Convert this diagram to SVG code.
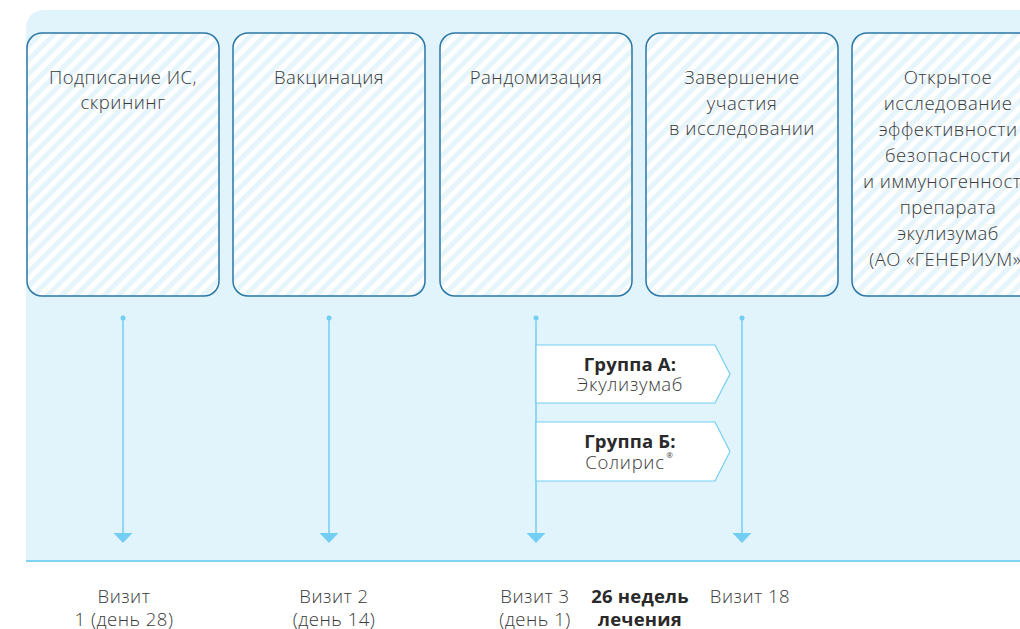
<svg xmlns="http://www.w3.org/2000/svg" width="1020" height="629" viewBox="0 0 1020 629">
<defs>
<pattern id="stripes" patternUnits="userSpaceOnUse" width="10" height="10" patternTransform="rotate(45)">
<rect width="10" height="10" fill="#ffffff"/>
<rect width="5" height="10" fill="#e6f4fb"/>
</pattern>
</defs>
<style>
.box{fill:url(#stripes);stroke:#2b77a6;stroke-width:1.5}
.t{font-family:"Open Sans","Liberation Sans",sans-serif;font-size:18.5px;letter-spacing:0.5px;fill:#3a3a3a;text-anchor:middle;font-weight:300}
.g{font-size:18.5px;letter-spacing:0.7px}
.b{font-weight:700;fill:#2a2a2a;letter-spacing:0.2px}
.ln{stroke:#72cff3;stroke-width:1.5;fill:none}
.dot{fill:#72cff3}
.head{fill:#72cff3}
.grp{fill:#ffffff;stroke:#72cff3;stroke-width:1.2}
</style>
<rect width="1020" height="629" fill="#ffffff"/>
<path d="M26 561 V30 Q26 10 46 10 H1020 V561 Z" fill="#e1f3fb"/>
<line x1="26" y1="561" x2="1020" y2="561" stroke="#7fd4f5" stroke-width="2"/>

<g id="node-signing">
<rect class="box" x="27" y="33" width="192" height="263" rx="15"/>
<text class="t" x="123" y="84">Подписание ИС,</text>
<text class="t" x="123" y="109">скрининг</text>
</g>
<g id="node-vaccination">
<rect class="box" x="233" y="33" width="192" height="263" rx="15"/>
<text class="t" x="329" y="84">Вакцинация</text>
</g>
<g id="node-randomization">
<rect class="box" x="440" y="33" width="192" height="263" rx="15"/>
<text class="t" x="536" y="84">Рандомизация</text>
</g>
<g id="node-completion">
<rect class="box" x="646" y="33" width="192" height="263" rx="15"/>
<text class="t" x="742" y="84">Завершение</text>
<text class="t" x="742" y="109.5">участия</text>
<text class="t" x="742" y="135">в исследовании</text>
</g>
<g id="node-open-study">
<rect class="box" x="852" y="33" width="192" height="263" rx="15"/>
<text class="t" x="948" y="84">Открытое</text>
<text class="t" x="948" y="110">исследование</text>
<text class="t" x="948" y="136">эффективности</text>
<text class="t" x="948" y="162">безопасности</text>
<text class="t" x="948" y="188">и иммуногенности</text>
<text class="t" x="948" y="214">препарата</text>
<text class="t" x="948" y="240">экулизумаб</text>
<text class="t" x="948" y="266">(АО «ГЕНЕРИУМ»)</text>
</g>

<g id="connectors">
<circle class="dot" cx="123" cy="318" r="2.5"/>
<line class="ln" x1="123" y1="318" x2="123" y2="534"/>
<path class="head" d="M113.5 533 H132.5 L123 543 Z"/>
<circle class="dot" cx="329" cy="318" r="2.5"/>
<line class="ln" x1="329" y1="318" x2="329" y2="534"/>
<path class="head" d="M319.5 533 H338.5 L329 543 Z"/>
<circle class="dot" cx="536" cy="318" r="2.5"/>
<line class="ln" x1="536" y1="318" x2="536" y2="534"/>
<path class="head" d="M526.5 533 H545.5 L536 543 Z"/>
<circle class="dot" cx="742" cy="318" r="2.5"/>
<line class="ln" x1="742" y1="318" x2="742" y2="534"/>
<path class="head" d="M732.5 533 H751.5 L742 543 Z"/>
</g>

<g id="node-group-a">
<path class="grp" d="M536 345 H715 L730 374 L715 403 H536 Z"/>
<text class="t b" x="630" y="371">Группа А:</text>
<text class="t g" x="630" y="391">Экулизумаб</text>
</g>
<g id="node-group-b">
<path class="grp" d="M536 422 H715 L730 451.5 L715 481 H536 Z"/>
<text class="t b" x="630" y="448">Группа Б:</text>
<text class="t g" x="625" y="469">Солирис</text>
<text x="669.5" y="458" font-family="Open Sans, sans-serif" font-size="8" fill="#3a3a3a" text-anchor="middle">®</text>
</g>

<g id="labels">
<text class="t" x="124" y="603">Визит</text>
<text class="t" x="124" y="626">1 (день 28)</text>
<text class="t" x="334" y="603">Визит 2</text>
<text class="t" x="334" y="626">(день 14)</text>
<text class="t" x="535" y="603">Визит 3</text>
<text class="t" x="535" y="626">(день 1)</text>
<text class="t b" x="640" y="603">26 недель</text>
<text class="t b" x="640" y="626">лечения</text>
<text class="t" x="750" y="603">Визит 18</text>
</g>
</svg>
